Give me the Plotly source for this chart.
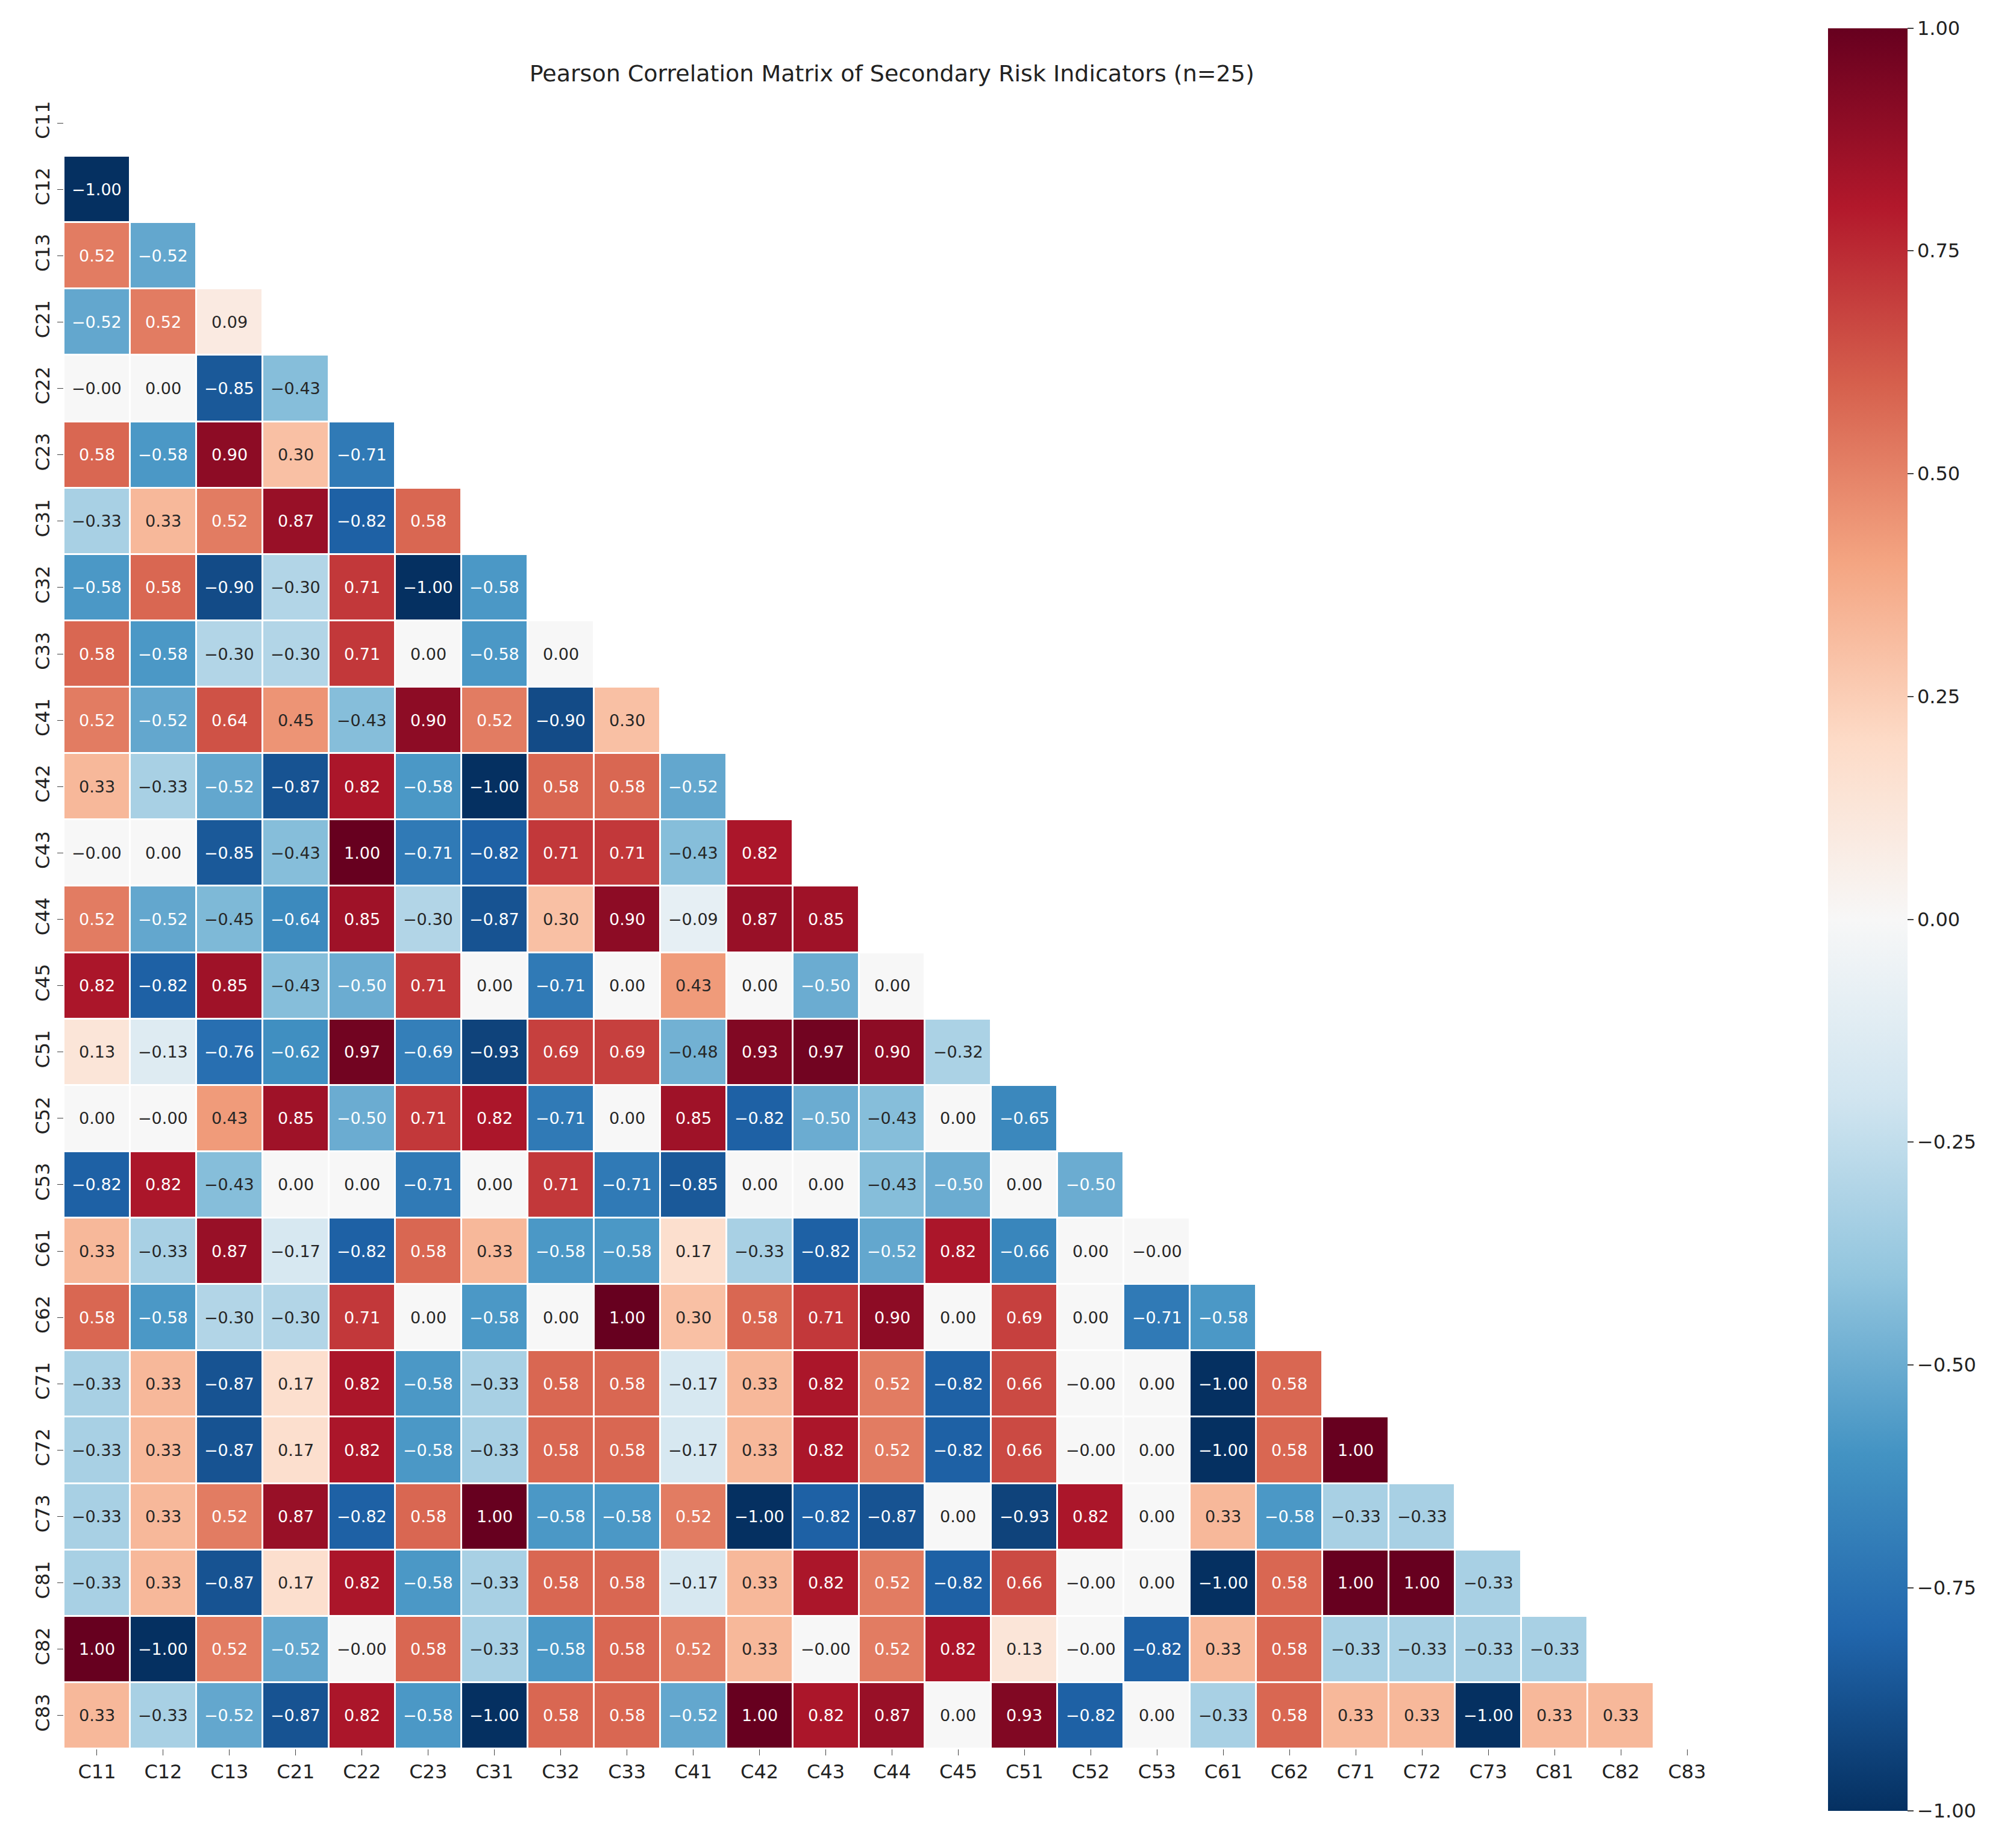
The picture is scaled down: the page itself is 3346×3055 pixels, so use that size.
import plotly.graph_objects as go

labels = ["C11","C12","C13","C21","C22","C23","C31","C32","C33","C41","C42","C43","C44","C45",
          "C51","C52","C53","C61","C62","C71","C72","C73","C81","C82","C83"]

rows = [
 [],
 [-1.00],
 [0.52,-0.52],
 [-0.52,0.52,0.09],
 [-0.0,0.00,-0.85,-0.43],
 [0.58,-0.58,0.90,0.30,-0.71],
 [-0.33,0.33,0.52,0.87,-0.82,0.58],
 [-0.58,0.58,-0.90,-0.30,0.71,-1.00,-0.58],
 [0.58,-0.58,-0.30,-0.30,0.71,0.00,-0.58,0.00],
 [0.52,-0.52,0.64,0.45,-0.43,0.90,0.52,-0.90,0.30],
 [0.33,-0.33,-0.52,-0.87,0.82,-0.58,-1.00,0.58,0.58,-0.52],
 [-0.0,0.00,-0.85,-0.43,1.00,-0.71,-0.82,0.71,0.71,-0.43,0.82],
 [0.52,-0.52,-0.45,-0.64,0.85,-0.30,-0.87,0.30,0.90,-0.09,0.87,0.85],
 [0.82,-0.82,0.85,-0.43,-0.50,0.71,0.00,-0.71,0.00,0.43,0.00,-0.50,0.00],
 [0.13,-0.13,-0.76,-0.62,0.97,-0.69,-0.93,0.69,0.69,-0.48,0.93,0.97,0.90,-0.32],
 [0.00,-0.0,0.43,0.85,-0.50,0.71,0.82,-0.71,0.00,0.85,-0.82,-0.50,-0.43,0.00,-0.65],
 [-0.82,0.82,-0.43,0.00,0.00,-0.71,0.00,0.71,-0.71,-0.85,0.00,0.00,-0.43,-0.50,0.00,-0.50],
 [0.33,-0.33,0.87,-0.17,-0.82,0.58,0.33,-0.58,-0.58,0.17,-0.33,-0.82,-0.52,0.82,-0.66,0.00,-0.0],
 [0.58,-0.58,-0.30,-0.30,0.71,0.00,-0.58,0.00,1.00,0.30,0.58,0.71,0.90,0.00,0.69,0.00,-0.71,-0.58],
 [-0.33,0.33,-0.87,0.17,0.82,-0.58,-0.33,0.58,0.58,-0.17,0.33,0.82,0.52,-0.82,0.66,-0.0,0.00,-1.00,0.58],
 [-0.33,0.33,-0.87,0.17,0.82,-0.58,-0.33,0.58,0.58,-0.17,0.33,0.82,0.52,-0.82,0.66,-0.0,0.00,-1.00,0.58,1.00],
 [-0.33,0.33,0.52,0.87,-0.82,0.58,1.00,-0.58,-0.58,0.52,-1.00,-0.82,-0.87,0.00,-0.93,0.82,0.00,0.33,-0.58,-0.33,-0.33],
 [-0.33,0.33,-0.87,0.17,0.82,-0.58,-0.33,0.58,0.58,-0.17,0.33,0.82,0.52,-0.82,0.66,-0.0,0.00,-1.00,0.58,1.00,1.00,-0.33],
 [1.00,-1.00,0.52,-0.52,-0.0,0.58,-0.33,-0.58,0.58,0.52,0.33,-0.0,0.52,0.82,0.13,-0.0,-0.82,0.33,0.58,-0.33,-0.33,-0.33,-0.33],
 [0.33,-0.33,-0.52,-0.87,0.82,-0.58,-1.00,0.58,0.58,-0.52,1.00,0.82,0.87,0.00,0.93,-0.82,0.00,-0.33,0.58,0.33,0.33,-1.00,0.33,0.33],
]

cbar_vals = [-1.0,-0.75,-0.5,-0.25,0.0,0.25,0.5,0.75,1.0]

n = len(labels)
z = [r + [None]*(n-len(r)) for r in rows]

rdbu_r = ["#053061","#2166ac","#4393c3","#92c5de","#d1e5f0","#f7f7f7",
          "#fddbc7","#f4a582","#d6604d","#b2182b","#67001f"]
cs = [[i/10, c] for i, c in enumerate(rdbu_r)]

def fmt(v):
    return f"{v:.2f}".replace("-", "\u2212")

fig = go.Figure(go.Heatmap(
    z=z, x=labels, y=labels, zmin=-1, zmax=1, colorscale=cs,
    xgap=3, ygap=3, hoverongaps=False,
    colorbar=dict(tickvals=cbar_vals, ticktext=[fmt(v) for v in cbar_vals],
                  thickness=132, lenmode="pixels", len=2958, y=0.5, yanchor="middle",
                  x=1.065, xanchor="left", xpad=0, ypad=0, outlinewidth=0,
                  ticks="outside", ticklen=10, tickwidth=2,
                  tickfont=dict(size=32, color="#222"))
))

ann = []
for i, r in enumerate(rows):
    for j, v in enumerate(r):
        ann.append(dict(x=labels[j], y=labels[i], text=fmt(v), showarrow=False,
                        font=dict(size=27, color="white" if abs(v) > 0.48 else "#262626")))

fig.update_layout(
    width=3346, height=3055, plot_bgcolor="white", paper_bgcolor="white",
    font=dict(family="DejaVu Sans"),
    title=dict(text="Pearson Correlation Matrix of Secondary Risk Indicators (n=25)",
               x=0.44, xanchor="center", y=0.967, font=dict(size=38, color="#222")),
    margin=dict(l=98, r=499, t=141, b=161),
    annotations=ann,
    xaxis=dict(showgrid=False, zeroline=False, ticks="outside", ticklen=10,
               tickfont=dict(size=32, color="#222"), tickangle=0),
    yaxis=dict(showgrid=False, zeroline=False, autorange="reversed", ticks="outside",
               ticklen=10, tickfont=dict(size=32, color="#222"), tickangle=-90),
)
fig.write_html("out.html")
